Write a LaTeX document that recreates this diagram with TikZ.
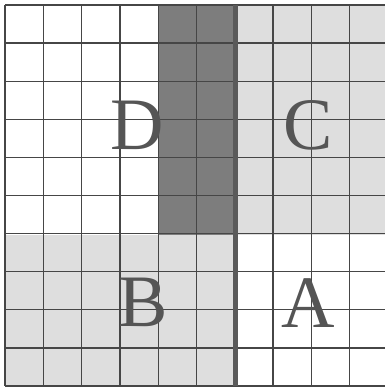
\documentclass[tikz,border=0pt]{standalone}
\usepackage{fontspec}
\setmainfont{Liberation Serif}
\definecolor{darkfill}{RGB}{125,125,125}
\definecolor{lightfill}{RGB}{222,222,222}
\definecolor{gridcol}{RGB}{70,70,70}
\definecolor{lettercol}{RGB}{85,85,85}
\definecolor{thickcol}{RGB}{90,90,90}
\tikzset{
  letter/.style={text=lettercol, font=\fontsize{74}{74}\selectfont, inner sep=0pt, anchor=center},
  gridline/.style={draw=gridcol, line width=1.3pt},
}
\begin{document}
\begin{tikzpicture}[x=1pt,y=-1pt]
\useasboundingbox (0,0) rectangle (385,388);
\fill[white] (0,0) rectangle (385,388);
% regions
\fill[darkfill] (158,5) rectangle (236,235);
\fill[lightfill] (236,5) rectangle (385,235);
\fill[lightfill] (5,235) rectangle (236,386);
% grid
\foreach \i in {0,...,9} {
  \draw[gridline] ({5+38.3*\i},5) -- ({5+38.3*\i},386);
}
\foreach \j in {0,...,10} {
  \draw[gridline] (5,{5+38.1*\j}) -- (385,{5+38.1*\j});
}
% thick divider
\draw[draw=thickcol, line width=5pt] (235,5) -- (235,386);
% letters
\node[letter] (D) at (137,125) {D};
\node[letter] (C) at (308,125) {C};
\node[letter] (B) at (143,302) {B};
\node[letter] (A) at (308,303) {A};
\end{tikzpicture}
\end{document}
